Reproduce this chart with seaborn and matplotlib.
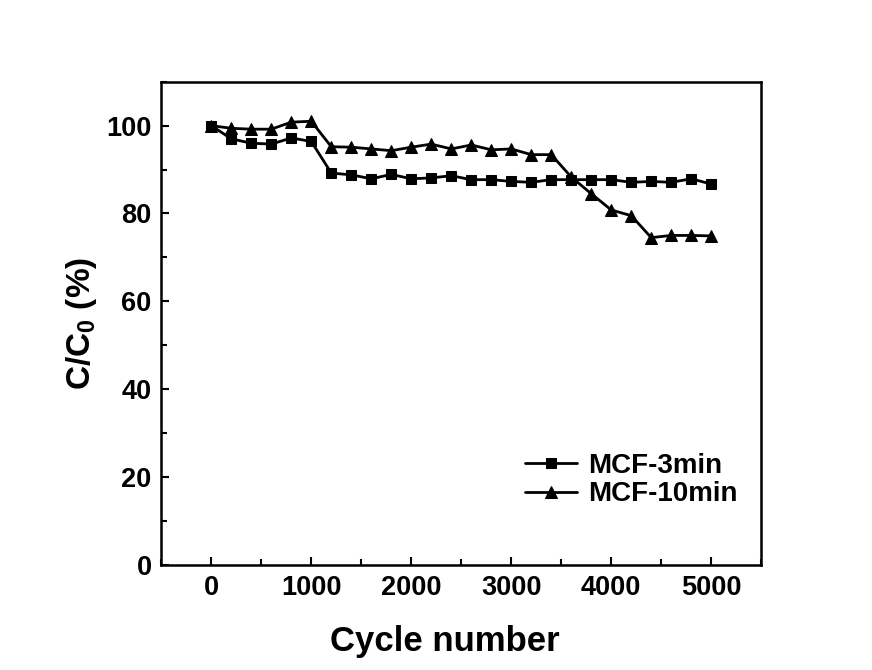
import matplotlib
matplotlib.use('Agg')
import matplotlib.pyplot as plt
import pandas as pd
import numpy as np
import seaborn as sns
from matplotlib.ticker import MultipleLocator

# Dados
ciclos = [0, 200, 400, 600, 800, 1000, 1200, 1400, 1600, 1800, 2000, 2200, 2400,
          2600, 2800, 3000, 3200, 3400, 3600, 3800, 4000, 4200, 4400, 4600, 4800, 5000]
mcf_3min = [100.0, 97.0, 96.0, 95.8, 97.2, 96.4, 89.2, 88.8, 87.9, 88.9, 87.9, 88.1, 88.6,
            87.7, 87.7, 87.3, 87.1, 87.7, 87.7, 87.7, 87.7, 87.1, 87.3, 87.1, 87.9, 86.7]
mcf_10min = [100.0, 99.4, 99.2, 99.2, 100.8, 101.0, 95.2, 95.1, 94.7, 94.3, 95.1, 95.8, 94.7,
             95.6, 94.5, 94.7, 93.4, 93.4, 88.3, 84.5, 80.8, 79.5, 74.5, 75.0, 75.0, 74.9]
series = ['MCF-3min', 'MCF-10min']

sns.set_style('ticks')
plt.rcParams['font.family'] = ['Liberation Sans', 'DejaVu Sans']
plt.rcParams['font.weight'] = 'bold'
plt.rcParams['text.color'] = 'black'
plt.rcParams['axes.labelcolor'] = 'black'
plt.rcParams['axes.edgecolor'] = 'black'
plt.rcParams['xtick.color'] = 'black'
plt.rcParams['ytick.color'] = 'black'
plt.rcParams['mathtext.fontset'] = 'custom'
plt.rcParams['mathtext.rm'] = 'Liberation Sans:bold'
plt.rcParams['mathtext.it'] = 'Liberation Sans:bold'
plt.rcParams['mathtext.bf'] = 'Liberation Sans:bold'

fig = plt.figure(figsize=(8.72, 6.70), dpi=100)
ax = fig.add_axes([0.185, 0.157, 0.688, 0.721])

# uma chamada por série (tamanho de marcador diferente)
sns.lineplot(x=ciclos, y=mcf_3min, marker='s', markersize=7, color='black',
             linewidth=2, markeredgecolor='black', label=series[0], ax=ax)
sns.lineplot(x=ciclos, y=mcf_10min, marker='^', markersize=8.5, color='black',
             linewidth=2, markeredgecolor='black', label=series[1], ax=ax)

ax.set_xlim(-500, 5500)
ax.set_ylim(0, 110)
ax.xaxis.set_major_locator(MultipleLocator(1000))
ax.xaxis.set_minor_locator(MultipleLocator(500))
ax.yaxis.set_major_locator(MultipleLocator(20))
ax.yaxis.set_minor_locator(MultipleLocator(10))
ax.tick_params(which='both', direction='in', width=1.5, labelsize=19.5, colors='black')
ax.tick_params(which='major', length=6, pad=7)
ax.tick_params(which='minor', length=4)
for lab in ax.get_xticklabels() + ax.get_yticklabels():
    lab.set_fontweight('bold')
for s in ax.spines.values():
    s.set_linewidth(1.8)
    s.set_color('black')
    s.set_visible(True)

ax.set_xlabel('Cycle number', fontsize=25, fontweight='bold')
ax.xaxis.set_label_coords(0.473, -0.125)
ax.set_ylabel('C/C$_0$ (%)', fontsize=24, fontweight='bold', labelpad=5)

ax.legend(loc='lower right', bbox_to_anchor=(1.003, 0.067), frameon=False,
          handlelength=1.9, handletextpad=0.4, labelspacing=0.1,
          prop={'weight': 'bold', 'size': 20})

fig.savefig('out.png', dpi=100)
